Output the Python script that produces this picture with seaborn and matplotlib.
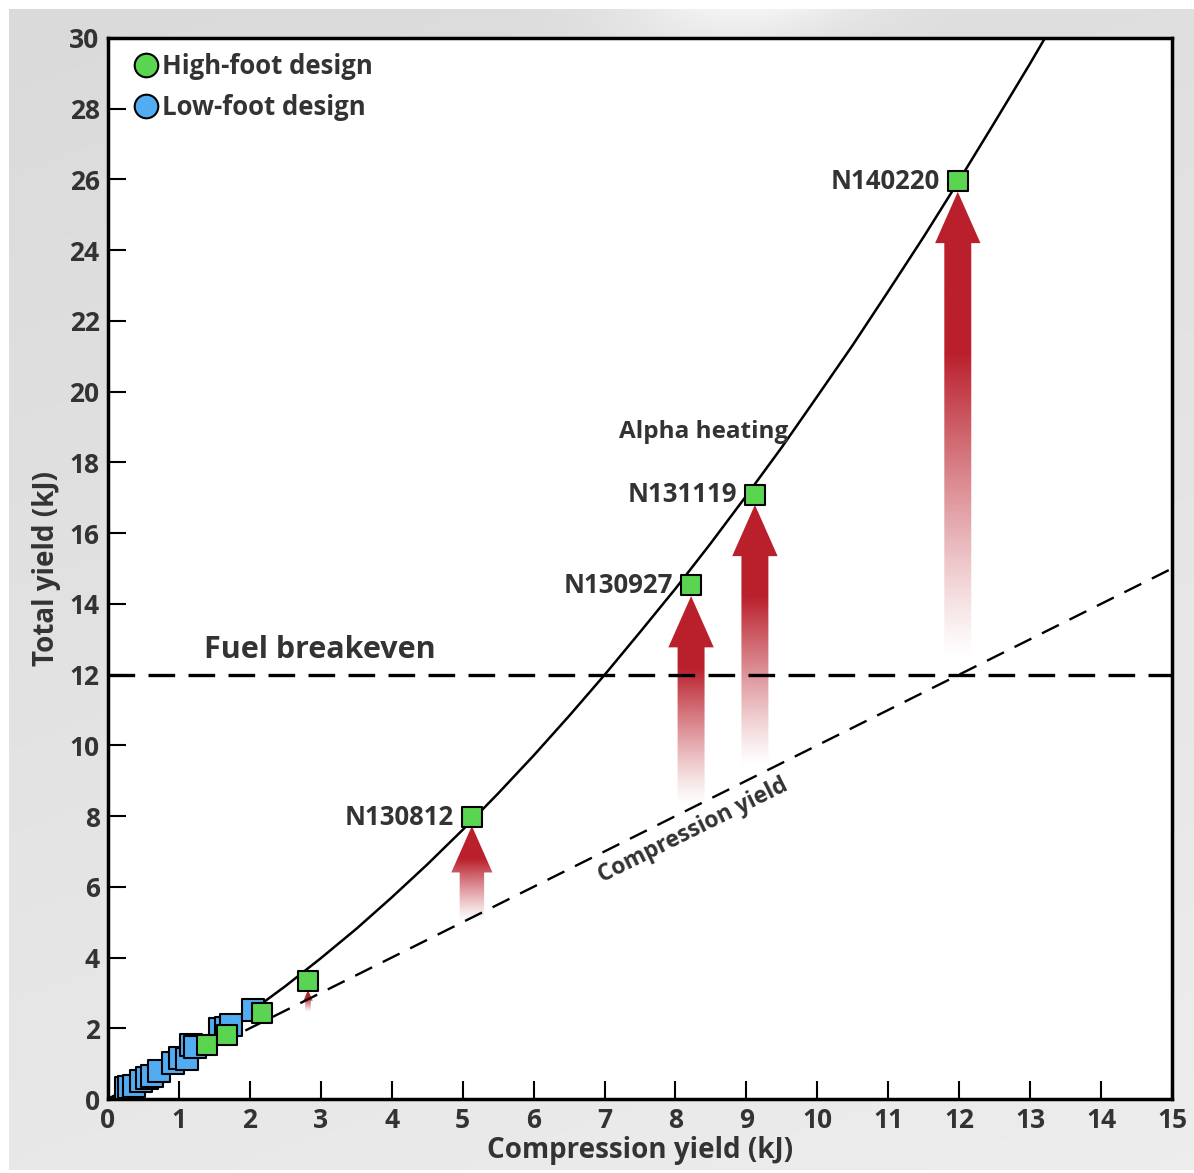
import numpy as np
import matplotlib
matplotlib.use("Agg")
import matplotlib.pyplot as plt
import seaborn as sns
from matplotlib.path import Path
from matplotlib.patches import PathPatch
from matplotlib.lines import Line2D

# ---------------- data ----------------
blue_x = [0.25, 0.30, 0.36, 0.47, 0.55, 0.62, 0.72, 0.92, 1.02, 1.12, 1.17, 1.22, 1.58, 1.66, 1.73, 2.04]
blue_y = [0.30, 0.33, 0.38, 0.52, 0.58, 0.64, 0.78, 1.02, 1.15, 1.12, 1.52, 1.47, 1.98, 2.02, 2.08, 2.52]

green_x = [1.40, 1.68, 2.17, 2.82, 5.13, 8.22, 9.12, 11.98]
green_y = [1.53, 1.81, 2.43, 3.34, 7.97, 14.53, 17.08, 25.95]
green_names = ["", "", "", "", "N130812", "N130927", "N131119", "N140220"]

# fitted total-yield curve
curve_x = [0, 0.5, 1, 1.5, 2, 2.5, 3, 3.5, 4, 4.5, 5, 5.5, 6, 6.5, 7, 7.5,
           8, 8.5, 9, 9.5, 10, 10.5, 11, 11.5, 12, 12.5, 13, 13.5]
curve_y = [0, 0.53, 1.12, 1.76, 2.45, 3.19, 3.98, 4.81, 5.70, 6.63, 7.61, 8.64,
           9.71, 10.83, 11.99, 13.20, 14.43, 15.72, 17.06, 18.43, 19.87, 21.32,
           22.84, 24.38, 25.98, 27.62, 29.28, 31.0]

# compression-yield line (total = compression)
comp_x = [0, 15]
comp_y = [0, 15]
breakeven = 12

# alpha-heating arrows
arrow_x = [2.82, 5.13, 8.22, 9.12, 11.98]
arrow_base = [2.45, 5.0, 8.3, 9.4, 12.4]
arrow_tip = [3.08, 7.72, 14.22, 16.8, 25.65]

x_ticks = list(range(0, 16))
y_ticks = list(range(0, 31, 2))

# ---------------- style ----------------
sns.set_theme(style="ticks")
plt.rcParams["font.family"] = ["Open Sans", "DejaVu Sans"]
plt.rcParams["font.weight"] = "bold"
TXT = "#333333"
GREEN = "#5ad552"
BLUE = "#52acf2"
RED = np.array([186, 32, 44]) / 255.0

W_PX, H_PX = 1194, 1173
fig = plt.figure(figsize=(W_PX / 100, H_PX / 100), dpi=100, facecolor="white")

# gray gradient background panel
bg = fig.add_axes([9 / W_PX, 3 / H_PX, 1 - 9 / W_PX, 1 - 12 / H_PX], zorder=-10)
yy, xx = np.mgrid[0:1:300j, 0:1:300j]
g = 0.855 + 0.055 * yy + 0.02 * xx
hl = 0.09 * np.exp(-((xx - 0.62 + 0.7 * yy) / 0.10) ** 2) * np.exp(-yy / 0.04)
g = np.clip(g + hl, 0, 1)
bg.imshow(np.dstack([g, g, g]), aspect="auto", extent=[0, 1, 0, 1], interpolation="bilinear")
bg.axis("off")

ax = fig.add_axes([108 / W_PX, 1 - 1099 / H_PX, 1064 / W_PX, 1061 / H_PX])
ax.set_facecolor("white")

# arrows with vertical fade
for x, b, t in zip(arrow_x, arrow_base, arrow_tip):
    s = min(1.0, (t - b) / 3.0)
    bw, hw, hlen = 0.19 * s, 0.32 * s, 1.45 * s
    verts = [(x - bw, b), (x + bw, b), (x + bw, t - hlen), (x + hw, t - hlen),
             (x, t), (x - hw, t - hlen), (x - bw, t - hlen), (x - bw, b)]
    codes = [Path.MOVETO] + [Path.LINETO] * 6 + [Path.CLOSEPOLY]
    patch = PathPatch(Path(verts, codes), facecolor="none", edgecolor="none",
                      transform=ax.transData)
    ax.add_patch(patch)
    n = 256
    tt = np.linspace(0, 1, n)
    alpha = np.clip(tt / 0.65, 0, 1) ** 1.2
    rgba = np.zeros((n, 2, 4))
    rgba[..., :3] = RED
    rgba[..., 3] = alpha[:, None]
    im = ax.imshow(rgba, extent=[x - hw, x + hw, b, t], origin="lower",
                   aspect="auto", zorder=2, interpolation="bilinear")
    im.set_clip_path(patch)

# lines
sns.lineplot(x=curve_x, y=curve_y, ax=ax, color="black", lw=1.8, sort=False,
             estimator=None, zorder=3)
sns.lineplot(x=comp_x, y=comp_y, ax=ax, color="black", lw=1.7, sort=False,
             estimator=None, zorder=3)
ax.lines[-1].set_dashes([8, 5])
ax.axhline(breakeven, color="black", lw=2.4, dashes=[8, 4], zorder=3)

# points
sns.scatterplot(x=blue_x, y=blue_y, ax=ax, marker="s", s=230, color=BLUE,
                edgecolor="black", linewidth=1.5, zorder=4, legend=False)
sns.scatterplot(x=green_x, y=green_y, ax=ax, marker="s", s=220, color=GREEN,
                edgecolor="black", linewidth=1.5, zorder=5, legend=False)

for x, y, name in zip(green_x, green_y, green_names):
    if name:
        ax.annotate(name, (x, y), xytext=(-13, 0), textcoords="offset points",
                    ha="right", va="center", fontsize=18.5, fontweight="bold",
                    color=TXT, zorder=6)

# texts
ax.text(1.35, 12.7, "Fuel breakeven", fontsize=22, fontweight="bold", color=TXT,
        ha="left", va="center")
ax.text(8.39, 18.86, "Alpha heating", fontsize=17.5, fontweight="bold", color=TXT,
        ha="center", va="center")
ax.text(8.25, 7.6, "Compression yield", fontsize=16.5, fontweight="bold", color=TXT,
        ha="center", va="center", rotation=45, transform_rotates_text=True,
        rotation_mode="anchor")

# legend
handles = [Line2D([], [], ls="", marker="o", markersize=17, mfc=GREEN, mec="black", mew=1.5),
           Line2D([], [], ls="", marker="o", markersize=17, mfc=BLUE, mec="black", mew=1.5)]
leg = ax.legend(handles, ["High-foot design", "Low-foot design"], loc="upper left",
                bbox_to_anchor=(0.007, 1.003), frameon=False, handletextpad=0.12,
                labelspacing=0.55, handlelength=1.0, borderaxespad=0.3,
                prop=dict(weight="bold", size=18.5))
for t in leg.get_texts():
    t.set_color(TXT)

# axes
ax.set_xlim(0, 15)
ax.set_ylim(0, 30)
ax.set_xticks(x_ticks)
ax.set_yticks(y_ticks)
ax.tick_params(direction="in", length=13, width=1.5, color="black",
               labelsize=19, labelcolor=TXT, pad=6)
for lbl in ax.get_xticklabels() + ax.get_yticklabels():
    lbl.set_fontweight("bold")
for sp in ax.spines.values():
    sp.set_visible(True)
    sp.set_linewidth(2.5)
    sp.set_color("black")
ax.set_xlabel("Compression yield (kJ)", fontsize=20, fontweight="bold", color=TXT, labelpad=1)
ax.set_ylabel("Total yield (kJ)", fontsize=20, fontweight="bold", color=TXT, labelpad=6)

fig.savefig("out.png", dpi=100)
